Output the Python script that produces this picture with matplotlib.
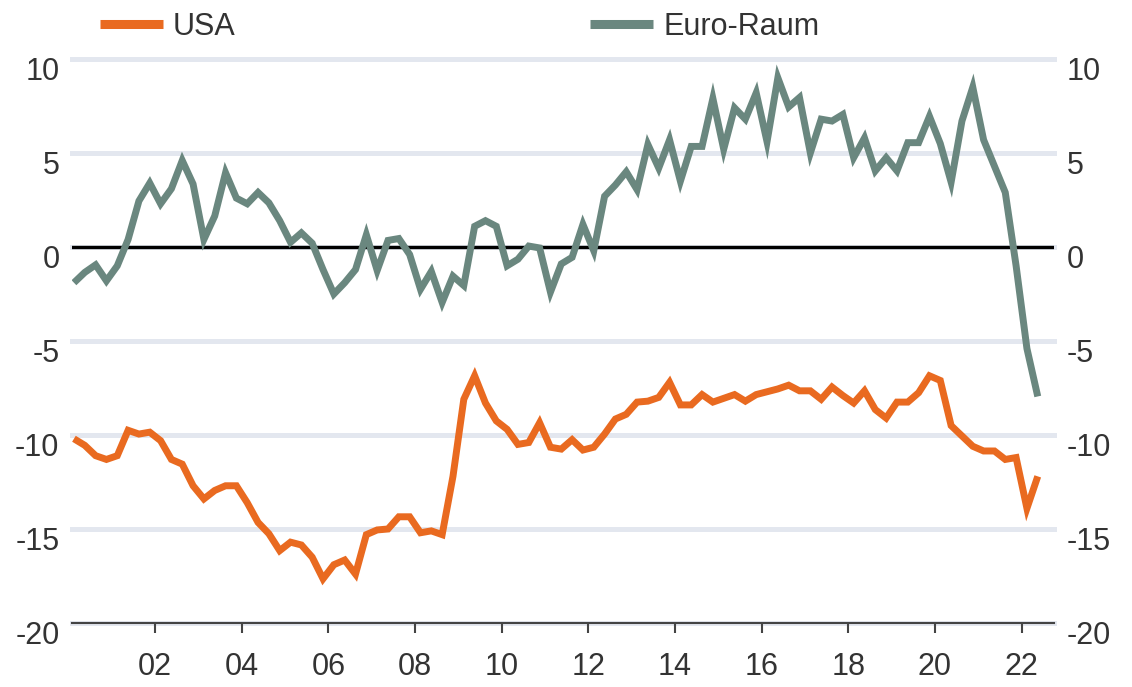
import matplotlib.pyplot as plt
from matplotlib.transforms import ScaledTranslation
import numpy as np

# quarterly, 2000Q1 .. 2022Q2
usa = [-10.2, -10.55, -11.1, -11.3, -11.1, -9.75, -9.95, -9.85, -10.3, -11.3,
       -11.55, -12.7, -13.4, -12.95, -12.7, -12.7, -13.6, -14.65, -15.25, -16.15,
       -15.7, -15.85, -16.5, -17.65, -16.9, -16.65, -17.4, -15.3, -15.05, -15.0,
       -14.35, -14.35, -15.2, -15.1, -15.3, -12.2, -8.1, -6.85, -8.3, -9.25,
       -9.7, -10.5, -10.4, -9.35, -10.65, -10.75, -10.25, -10.8, -10.65, -9.95,
       -9.15, -8.9, -8.25, -8.2, -8.0, -7.2, -8.4, -8.4, -7.85, -8.25,
       -8.05, -7.85, -8.2, -7.85, -7.7, -7.55, -7.35, -7.65, -7.65, -8.1,
       -7.45, -7.9, -8.3, -7.65, -8.65, -9.1, -8.25, -8.25, -7.75, -6.85,
       -7.1, -9.5, -10.05, -10.6, -10.85, -10.85, -11.3, -11.2, -13.9, -12.2]
euro = [-1.9, -1.35, -0.95, -1.8, -1.0, 0.4, 2.45, 3.4, 2.3, 3.1,
        4.6, 3.35, 0.4, 1.65, 3.95, 2.6, 2.3, 2.9, 2.35, 1.4,
        0.25, 0.75, 0.2, -1.2, -2.5, -1.9, -1.2, 0.65, -1.25, 0.35,
        0.45, -0.4, -2.25, -1.3, -2.95, -1.55, -2.05, 1.1, 1.4, 1.1,
        -1.0, -0.65, 0.05, -0.05, -2.4, -0.9, -0.55, 1.2, -0.2, 2.7,
        3.3, 4.0, 3.05, 5.45, 4.2, 5.7, 3.5, 5.35, 5.35, 7.9,
        5.2, 7.4, 6.8, 8.2, 5.6, 9.0, 7.45, 7.95, 5.0, 6.8,
        6.7, 7.05, 4.75, 5.8, 4.05, 4.75, 4.05, 5.55, 5.55, 6.95,
        5.5, 3.45, 6.7, 8.5, 5.7, 4.3, 2.9, -1.0, -5.4, -7.95]
series_names = ['USA', 'Euro-Raum']
year_ticks = list(range(2002, 2023, 2))
year_labels = ['%02d' % (y % 100) for y in year_ticks]
y_ticks = [10, 5, 0, -5, -10, -15, -20]

t = 2000.125 + 0.25 * np.arange(len(usa))

plt.rcParams['font.family'] = ['Liberation Sans Narrow', 'Liberation Sans', 'DejaVu Sans']
fs = 22

fig = plt.figure(figsize=(11.32, 6.87), dpi=100)
ax = fig.add_axes([72/1132, 1 - 623/687, (1054 - 72)/1132, (623 - 59)/687])

for v in y_ticks:
    ax.axhline(v, color='#e3e7ef', lw=3.6, zorder=1, clip_on=False)
ax.axhline(0, color='black', lw=2.4, zorder=2)

l1, = ax.plot(t, usa, color='#e96a20', lw=5, solid_joinstyle='miter',
              solid_capstyle='butt', zorder=3, label=series_names[0])
l2, = ax.plot(t, euro, color='#6a877f', lw=5, solid_joinstyle='miter',
              solid_capstyle='butt', zorder=3, label=series_names[1])

ax.set_xlim(2000.08, 2022.75)
ax.set_ylim(-20, 10)

for s in ['top', 'left', 'right']:
    ax.spines[s].set_visible(False)
ax.spines['bottom'].set_color('#444444')
ax.spines['bottom'].set_linewidth(1.5)
ax.spines['bottom'].set_zorder(4)

ax.set_xticks(year_ticks)
ax.set_xticklabels(year_labels)
ax.tick_params(axis='x', direction='out', length=7, width=1.5, color='#444444',
               labelsize=fs, labelcolor='#333333', pad=14)

ax.set_yticks(y_ticks)
ax.set_yticklabels([str(v) for v in y_ticks])
ax.tick_params(axis='y', length=0, labelsize=fs, labelcolor='#333333',
               labelleft=True, labelright=True, pad=9)

shift = ScaledTranslation(0, -9/100, fig.dpi_scale_trans)
for tk in ax.yaxis.get_major_ticks():
    tk.label1.set_transform(tk.label1.get_transform() + shift)
    tk.label2.set_transform(tk.label2.get_transform() + shift)

leg = fig.legend(handles=[l1, l2], loc='center left',
                 bbox_to_anchor=(100/1132, 1 - 27/687), ncol=2, frameon=False,
                 fontsize=fs, handlelength=2.06, handletextpad=0.33,
                 columnspacing=11.6, borderpad=0, borderaxespad=0)
for h in leg.legend_handles:
    h.set_linewidth(6.5)
for txt in leg.get_texts():
    txt.set_color('#333333')

fig.savefig('out.png', dpi=100)
